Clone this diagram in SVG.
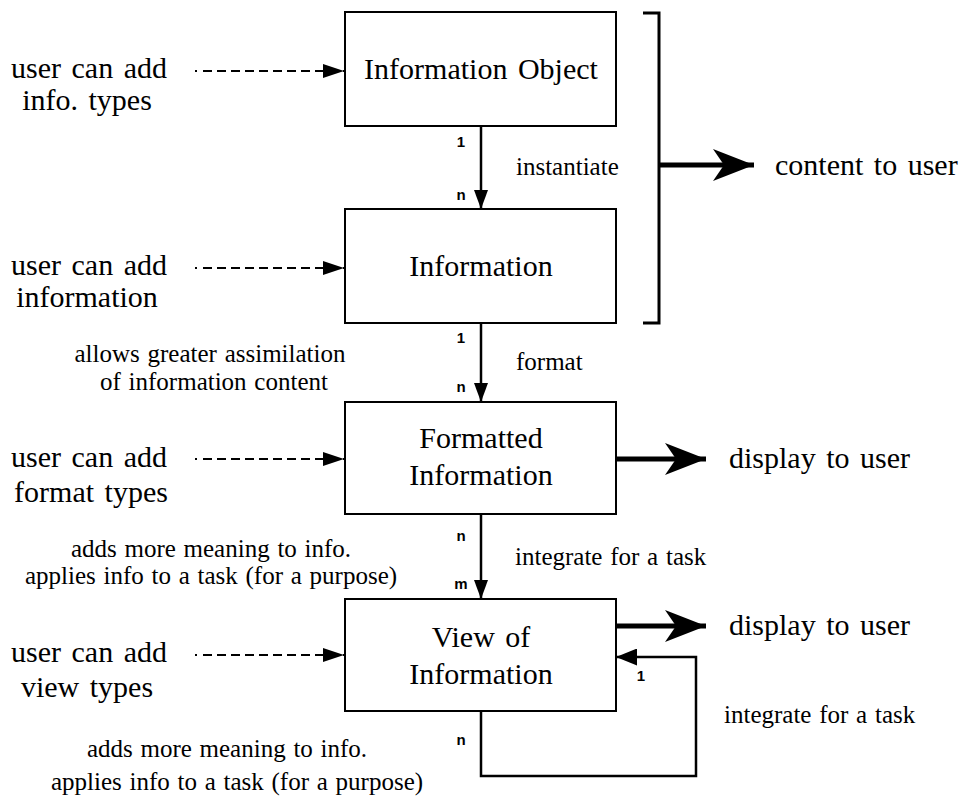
<svg xmlns="http://www.w3.org/2000/svg" width="960" height="802" viewBox="0 0 960 802">
<defs>
<style>
.box{fill:#fff;stroke:#000;stroke-width:2}
.t{font-family:"Liberation Serif","Times New Roman",serif;font-size:30px;fill:#000;word-spacing:3px}
.s{font-family:"Liberation Serif","Times New Roman",serif;font-size:25px;fill:#000;word-spacing:1.5px}
.m{font-family:"Liberation Sans",Arial,sans-serif;font-size:15px;font-weight:bold;fill:#000;text-anchor:middle}
.c{text-anchor:middle}
.solid{fill:none;stroke:#000;stroke-width:2.5}
.dash{fill:none;stroke:#000;stroke-width:1.8;stroke-dasharray:2 6 9 5 9 5 9 5 9 5 9 5 9 5 9 5 9 5 9 5 9 5}
.big{fill:none;stroke:#000;stroke-width:5}
.brk{fill:none;stroke:#000;stroke-width:3}
</style>
<marker id="ah" markerUnits="userSpaceOnUse" markerWidth="19" markerHeight="14" refX="19" refY="7" orient="auto"><path d="M0,0 L19,7 L0,14 Z" fill="#000"/></marker>
<marker id="dh" markerUnits="userSpaceOnUse" markerWidth="21" markerHeight="14" refX="21" refY="7" orient="auto"><path d="M0,0 L21,7 L0,14 Z" fill="#000"/></marker>
<marker id="bh" markerUnits="userSpaceOnUse" markerWidth="42" markerHeight="34" refX="41" refY="17" orient="auto"><path d="M0,1 L41,17 L0,33 L11,17 Z" fill="#000"/></marker>
<marker id="lh" markerUnits="userSpaceOnUse" markerWidth="21" markerHeight="17" refX="21" refY="8.5" orient="auto"><path d="M0,0 L21,8.5 L0,17 Z" fill="#000"/></marker>
</defs>

<g id="node-information-object">
<rect class="box" x="345" y="12" width="271" height="114"/>
<text class="t c" x="481" y="79">Information Object</text>
</g>
<g id="node-information">
<rect class="box" x="345" y="209" width="271" height="114"/>
<text class="t c" x="481" y="276">Information</text>
</g>
<g id="node-formatted-information">
<rect class="box" x="345" y="402" width="271" height="112"/>
<text class="t c" x="481" y="448">Formatted</text>
<text class="t c" x="481" y="485">Information</text>
</g>
<g id="node-view-of-information">
<rect class="box" x="345" y="599" width="271" height="112"/>
<text class="t c" x="481" y="647">View of</text>
<text class="t c" x="481" y="684">Information</text>
</g>

<g id="sources">
<text class="t c" x="89" y="78">user can add</text>
<text class="t c" x="87" y="110">info. types</text>
<text class="t c" x="89" y="275">user can add</text>
<text class="t c" x="87" y="307">information</text>
<text class="t c" x="89" y="467">user can add</text>
<text class="t c" x="91" y="502">format types</text>
<text class="t c" x="89" y="662">user can add</text>
<text class="t c" x="87" y="697">view types</text>
</g>

<g id="connectors">
<path class="dash" d="M195,71 H344" marker-end="url(#dh)"/>
<path class="dash" d="M195,268 H344" marker-end="url(#dh)"/>
<path class="dash" d="M195,459 H344" marker-end="url(#dh)"/>
<path class="dash" d="M195,655 H344" marker-end="url(#dh)"/>
<path class="solid" d="M481,126 V209" marker-end="url(#ah)"/>
<path class="solid" d="M481,323 V402" marker-end="url(#ah)"/>
<path class="solid" d="M481,514 V599" marker-end="url(#ah)"/>
<path class="solid" d="M481,711 V776 H696 V657 H616" marker-end="url(#lh)"/>
<path class="brk" d="M643,13 H659 V323 H643"/>
<path class="big" d="M659,165 H754" marker-end="url(#bh)"/>
<path class="big" d="M616,459 H706" marker-end="url(#bh)"/>
<path class="big" d="M616,626 H706" marker-end="url(#bh)"/>
</g>

<g id="labels">
<text class="m" x="461" y="147">1</text>
<text class="m" x="461" y="200">n</text>
<text class="m" x="461" y="343">1</text>
<text class="m" x="461" y="392">n</text>
<text class="m" x="461" y="541">n</text>
<text class="m" x="461" y="589">m</text>
<text class="m" x="461" y="745">n</text>
<text class="m" x="641" y="681">1</text>
<text class="s" x="516" y="175">instantiate</text>
<text class="s" x="516" y="370">format</text>
<text class="s" x="515" y="565">integrate for a task</text>
<text class="s" x="724" y="723">integrate for a task</text>
<text class="s c" x="210" y="362">allows greater assimilation</text>
<text class="s c" x="214" y="390">of information content</text>
<text class="s c" x="211" y="557">adds more meaning to info.</text>
<text class="s c" x="211" y="584">applies info to a task (for a purpose)</text>
<text class="s c" x="227" y="757">adds more meaning to info.</text>
<text class="s c" x="237" y="790">applies info to a task (for a purpose)</text>
<text class="t" x="775" y="175">content to user</text>
<text class="t" x="729" y="468">display to user</text>
<text class="t" x="729" y="635">display to user</text>
</g>
</svg>
